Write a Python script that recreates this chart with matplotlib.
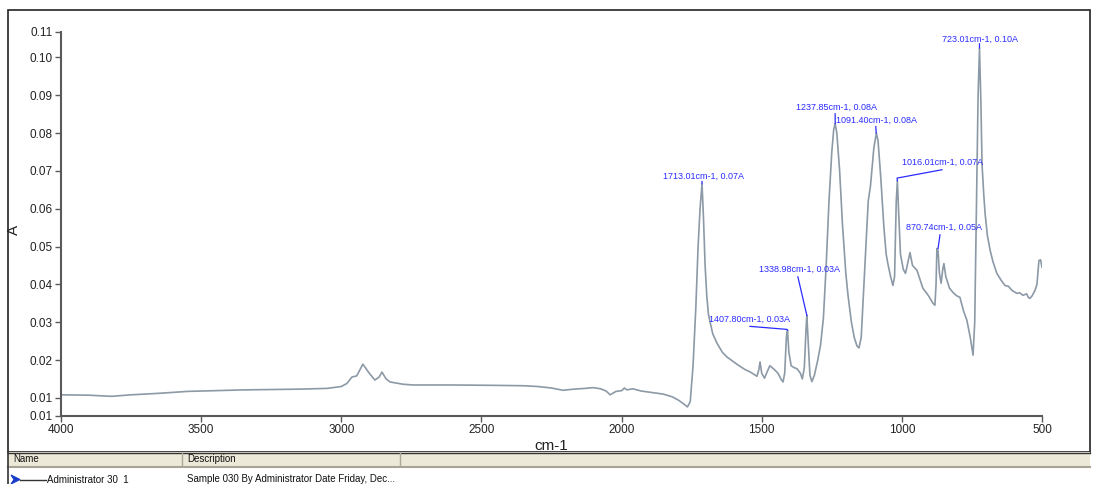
import matplotlib
matplotlib.use("Agg")
import matplotlib.pyplot as plt
from matplotlib.patches import Rectangle, Polygon

plt.rcParams['font.family'] = ['Liberation Sans Narrow', 'Liberation Sans', 'DejaVu Sans']

# spectrum (wavenumber cm-1, absorbance A)
wavenumber = [
    4000, 3900, 3820, 3750, 3650, 3550, 3450, 3350, 3250, 3150, 3050, 3000, 2980,
    2962, 2945, 2923, 2900, 2880, 2865, 2855, 2840, 2826, 2780, 2744, 2600, 2450,
    2350, 2300, 2250, 2209, 2170, 2130, 2102, 2075, 2055, 2041, 2020, 2000, 1990,
    1981, 1960, 1930, 1900, 1852, 1820, 1795, 1775, 1765, 1755, 1745, 1735, 1727,
    1720, 1713, 1708, 1702, 1696, 1690, 1675, 1660, 1640, 1624, 1600, 1585, 1560,
    1540, 1517, 1510, 1506, 1500, 1490, 1480, 1471, 1455, 1442, 1430, 1424, 1418,
    1412, 1408, 1403, 1395, 1385, 1374, 1362, 1355, 1348, 1342, 1339, 1335, 1328,
    1321, 1312, 1300, 1290, 1280, 1270, 1260, 1250, 1243, 1238, 1232, 1222, 1212,
    1200, 1192, 1180, 1170, 1160, 1153, 1145, 1138, 1131, 1125, 1120, 1112, 1100,
    1091, 1085, 1075, 1064, 1056, 1050, 1040, 1032, 1026, 1020, 1016, 1012, 1005,
    995, 987, 978, 971, 962, 946, 925, 905, 889, 882, 878, 875, 871, 866, 860, 854,
    850, 843, 830, 818, 805, 793, 780, 768, 756, 746, 740, 733, 728, 723, 718, 714,
    708, 703, 695, 685, 675, 661, 645, 632, 620, 607, 598, 589, 580, 568, 555, 548,
    543, 535, 525, 518, 511, 505, 500,
]
absorbance = [
    0.0108, 0.0107, 0.0104, 0.0108, 0.0112, 0.0117, 0.0119, 0.0121, 0.0122, 0.0123,
    0.0125, 0.0130, 0.0138, 0.0155, 0.0158, 0.0189, 0.0165, 0.0147, 0.0155, 0.0168,
    0.0150, 0.0142, 0.0136, 0.0134, 0.0134, 0.0133, 0.0132, 0.0130, 0.0126, 0.0120,
    0.0123, 0.0125, 0.0127, 0.0124, 0.0118, 0.0108, 0.0117, 0.0119, 0.0126, 0.0121,
    0.0124, 0.0118, 0.0115, 0.0110, 0.0103, 0.0093, 0.0082, 0.0076, 0.0090, 0.0185,
    0.0340, 0.0500, 0.0600, 0.0666, 0.0580, 0.0450, 0.0370, 0.0320, 0.0270, 0.0245,
    0.0220, 0.0208, 0.0195, 0.0187, 0.0175, 0.0168, 0.0157, 0.0175, 0.0195, 0.0165,
    0.0152, 0.0170, 0.0185, 0.0175, 0.0165, 0.0148, 0.0142, 0.0165, 0.0260, 0.0279,
    0.0220, 0.0185, 0.0180, 0.0177, 0.0165, 0.0150, 0.0180, 0.0280, 0.0318, 0.0260,
    0.0160, 0.0143, 0.0160, 0.0200, 0.0240, 0.0310, 0.0450, 0.0620, 0.0750, 0.0810,
    0.0825, 0.0800, 0.0700, 0.0560, 0.0430, 0.0370, 0.0300, 0.0260, 0.0237, 0.0232,
    0.0260, 0.0360, 0.0455, 0.0550, 0.0620, 0.0660, 0.0760, 0.0800, 0.0780, 0.0680,
    0.0550, 0.0480, 0.0455, 0.0420, 0.0397, 0.0420, 0.0620, 0.0674, 0.0600, 0.0480,
    0.0440, 0.0429, 0.0460, 0.0484, 0.0450, 0.0437, 0.0390, 0.0370, 0.0350, 0.0345,
    0.0400, 0.0495, 0.0490, 0.0430, 0.0403, 0.0440, 0.0455, 0.0420, 0.0390, 0.0379,
    0.0370, 0.0366, 0.0330, 0.0305, 0.0260, 0.0213, 0.0300, 0.0650, 0.0900, 0.1025,
    0.0880, 0.0718, 0.0640, 0.0587, 0.0530, 0.0490, 0.0460, 0.0429, 0.0410, 0.0397,
    0.0395, 0.0384, 0.0380, 0.0376, 0.0378, 0.0371, 0.0375, 0.0365, 0.0363, 0.0370,
    0.0384, 0.0400, 0.0463, 0.0465, 0.0445,
]

# peak labels
peak_wn = [1713.01, 1237.85, 1091.40, 1016.01, 723.01, 870.74, 1338.98, 1407.80]
peak_a = [0.0666, 0.0825, 0.0800, 0.0674, 0.1025, 0.0495, 0.0318, 0.0279]
peak_text = ["1713.01cm-1, 0.07A", "1237.85cm-1, 0.08A", "1091.40cm-1, 0.08A",
             "1016.01cm-1, 0.07A", "723.01cm-1, 0.10A", "870.74cm-1, 0.05A",
             "1338.98cm-1, 0.03A", "1407.80cm-1, 0.03A"]
# label centre and leader-line start for each peak (layout only)
label_pos = [(1708, 0.0686), (1232, 0.0868), (1091, 0.0834), (855, 0.0723),
             (721, 0.1048), (850, 0.0551), (1364, 0.0440), (1542, 0.0307)]
leader_start = [(1713, 0.0672), (1238, 0.0851), (1093, 0.0817), (857, 0.0703),
                (723, 0.1036), (864, 0.0531), (1371, 0.0420), (1542, 0.0289)]
leader_knee = [None, None, None, (1017, 0.0681), None, None, None, (1410, 0.0281)]

ylim = (0.0052, 0.1068)
yticks = [0.0052, 0.01, 0.02, 0.03, 0.04, 0.05, 0.06, 0.07, 0.08, 0.09, 0.10, 0.1068]
ytick_labels = ["0.01", "0.01", "0.02", "0.03", "0.04", "0.05", "0.06", "0.07",
                "0.08", "0.09", "0.10", "0.11"]
xticks = [4000, 3500, 3000, 2500, 2000, 1500, 1000, 500]

W, H = 1094, 484
fig = plt.figure(figsize=(W / 100, H / 100), dpi=100)

# background frame + table, drawn in pixel coords
bg = fig.add_axes([0, 0, 1, 1], zorder=0)
bg.set_xlim(0, W)
bg.set_ylim(H, 0)
bg.axis("off")
bg.add_patch(Rectangle((8, 10), 1082, 442, fill=False, edgecolor="#222222", lw=1.2))
bg.add_patch(Rectangle((8, 452), 1082, 14, facecolor="#ece9d8", edgecolor="none"))
bg.plot([8, 1090], [452.5, 452.5], color="#333333", lw=1.0)
bg.plot([8, 1090], [466.5, 466.5], color="#a7a496", lw=1.5)
bg.plot([8, 8], [452, 484], color="#333333", lw=1.2)
for xc in [182, 400]:
    bg.plot([xc, xc], [453, 466], color="#aca899", lw=1.0)
bg.text(13, 459.5, "Name", fontsize=7, va="center", ha="left", color="#111111")
bg.text(187, 459.5, "Description", fontsize=7, va="center", ha="left", color="#111111")
# row icon: blue chevron + short line
bg.add_patch(Polygon([[11, 475], [20, 479.5], [11, 484], [14, 479.5]],
                     closed=True, facecolor="#1a3cc8", edgecolor="#1a3cc8", lw=0.8))
bg.plot([20, 46], [479.5, 479.5], color="#333333", lw=1.0)
bg.text(47, 474.5, "Administrator 30_1", fontsize=7, va="top", ha="left", color="#111111")
bg.text(187, 474.5, "Sample 030 By Administrator Date Friday, Dec...", fontsize=7,
        va="top", ha="left", color="#111111")

ax = fig.add_axes([61 / W, (H - 416) / H, (1042 - 61) / W, (416 - 31.7) / H], zorder=1)
ax.patch.set_alpha(0)
ax.plot(wavenumber, absorbance, color="#8c99a6", lw=1.2)

for i in range(len(peak_wn)):
    ax.text(label_pos[i][0], label_pos[i][1], peak_text[i], fontsize=6.5,
            color="#2b2bff", ha="center", va="center")
    xs = [leader_start[i][0]]
    ys = [leader_start[i][1]]
    if leader_knee[i] is not None:
        xs.append(leader_knee[i][0])
        ys.append(leader_knee[i][1])
    xs.append(peak_wn[i])
    ys.append(peak_a[i])
    ax.plot(xs, ys, color="#2b2bff", lw=0.9)

ax.set_xlim(4000, 500)
ax.set_ylim(*ylim)
ax.set_xticks(xticks)
ax.set_xticklabels([str(t) for t in xticks])
ax.set_yticks(yticks)
ax.set_yticklabels(ytick_labels)
for s in ["top", "right"]:
    ax.spines[s].set_visible(False)
for s in ["left", "bottom"]:
    ax.spines[s].set_color("#5a5a5a")
    ax.spines[s].set_linewidth(1.5)
ax.tick_params(axis="both", direction="out", length=4, width=1, color="#5a5a5a",
               labelsize=8.5, labelcolor="#222222", pad=2)
ax.set_xlabel("cm-1", fontsize=11, labelpad=2, color="#222222")
ax.set_ylabel("A", fontsize=11, color="#222222")
ax.yaxis.set_label_coords(-0.041, 0.485)

fig.savefig("out.png", dpi=100)
